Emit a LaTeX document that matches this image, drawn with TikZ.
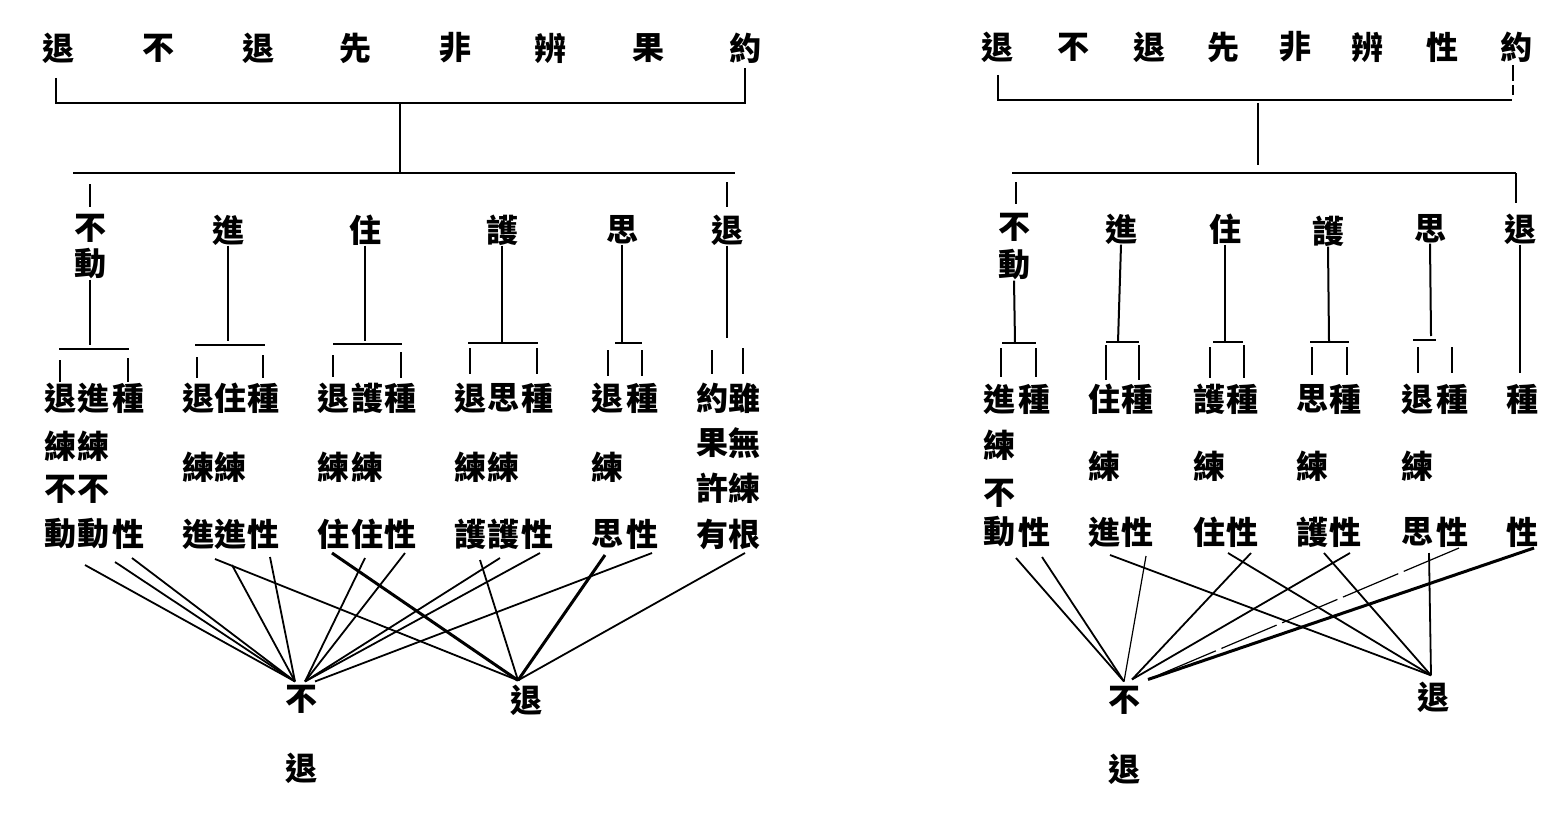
\documentclass[tikz,border=0pt]{standalone}
\usepackage{fontspec}
\newfontfamily\cjk{Noto Sans CJK TC}
\begin{document}
\begin{tikzpicture}[x=0.5pt,y=-0.5pt,
  zi/.style={font={\cjk\bfseries\fontsize{16}{16}\selectfont}, inner sep=0pt, text=black},
  tree/.style={line width=1pt},
  stem/.style={line width=1.4pt},
  thintree/.style={line width=0.7pt},
  link/.style={line width=0.9pt},
  heavylink/.style={line width=1.5pt},
  faintlink/.style={line width=0.6pt}]
\useasboundingbox[fill=white] (0,0) rectangle (1566,813);

% ================= LEFT DIAGRAM =================
% top row
\node[zi] (La1) at (58,48) {退};
\node[zi] (La2) at (158,48) {不};
\node[zi] (La3) at (258,48) {退};
\node[zi] (La4) at (355,48) {先};
\node[zi] (La5) at (455,48) {非};
\node[zi] (La6) at (550,48) {辨};
\node[zi] (La7) at (648,48) {果};
\node[zi] (La8) at (745,48) {約};
\coordinate (Lj1) at (400,103);
\coordinate (Lj2) at (400,173);
\draw[tree] (56,78) -- (56,103) -- (745,103) -- (745,68);
\draw[stem] (Lj1) -- (Lj2);
\draw[tree] (73,173) -- (735,173);
\draw[tree] (90,184) -- (90,207);
\draw[tree] (727,182) -- (727,207);

% second level
\node[zi] (Lb1) at (90,228) {不};
\node[zi] (Lb1b) at (90,264) {動};
\node[zi] (Lb2) at (228,230) {進};
\node[zi] (Lb3) at (365,230) {住};
\node[zi] (Lb4) at (502,230) {護};
\node[zi] (Lb5) at (622,230) {思};
\node[zi] (Lb6) at (727,230) {退};

% brackets
\draw[stem] (Lb1b.south) -- (90,345);
\draw[thintree] (59,349) -- (129,349);
\draw[tree] (60,360) -- (60,382); \draw[tree] (128,358) -- (128,382);

\draw[tree] (Lb2.south) -- (228,341);
\draw[thintree] (195,345) -- (265,345);
\draw[tree] (197,357) -- (197,378); \draw[tree] (263,355) -- (263,378);

\draw[tree] (Lb3.south) -- (365,341);
\draw[thintree] (333,344) -- (402,344);
\draw[tree] (333,355) -- (333,377); \draw[tree] (401,352) -- (401,378);

\draw[tree] (Lb4.south) -- (502,342);
\draw[thintree] (468,343) -- (538,343);
\draw[tree] (470,348) -- (470,374); \draw[tree] (537,348) -- (537,374);

\draw[tree] (Lb5.south) -- (622,342);
\draw[thintree] (615,343) -- (642,343);
\draw[tree] (608,350) -- (608,376); \draw[tree] (642,350) -- (642,376);

\draw[tree] (Lb6.south) -- (727,338);
\draw[tree] (712,350) -- (712,374); \draw[tree] (743,348) -- (743,374);

% group 1
\node[zi] (L11) at (60,398) {退}; \node[zi] (L12) at (93,398) {進}; \node[zi] (L13) at (128,398) {種};
\node[zi] (L14) at (60,446) {練}; \node[zi] (L15) at (93,446) {練};
\node[zi] (L16) at (60,489) {不}; \node[zi] (L17) at (93,489) {不};
\node[zi] (L18) at (60,534) {動}; \node[zi] (L19) at (93,534) {動}; \node[zi] (L10) at (128,534) {性};
% group 2
\node[zi] (L21) at (198,398) {退}; \node[zi] (L22) at (230,398) {住}; \node[zi] (L23) at (263,398) {種};
\node[zi] (L24) at (198,467) {練}; \node[zi] (L25) at (230,467) {練};
\node[zi] (L26) at (198,534) {進}; \node[zi] (L27) at (230,534) {進}; \node[zi] (L28) at (263,534) {性};
% group 3
\node[zi] (L31) at (333,398) {退}; \node[zi] (L32) at (367,398) {護}; \node[zi] (L33) at (400,398) {種};
\node[zi] (L34) at (333,467) {練}; \node[zi] (L35) at (367,467) {練};
\node[zi] (L36) at (333,534) {住}; \node[zi] (L37) at (367,534) {住}; \node[zi] (L38) at (400,534) {性};
% group 4
\node[zi] (L41) at (470,398) {退}; \node[zi] (L42) at (503,398) {思}; \node[zi] (L43) at (537,398) {種};
\node[zi] (L44) at (470,467) {練}; \node[zi] (L45) at (503,467) {練};
\node[zi] (L46) at (470,534) {護}; \node[zi] (L47) at (503,534) {護}; \node[zi] (L48) at (537,534) {性};
% group 5
\node[zi] (L51) at (607,398) {退}; \node[zi] (L52) at (642,398) {種};
\node[zi] (L53) at (607,467) {練};
\node[zi] (L54) at (607,534) {思}; \node[zi] (L55) at (642,534) {性};
% group 6
\node[zi] (L61) at (712,398) {約}; \node[zi] (L62) at (744,398) {雖};
\node[zi] (L63) at (712,443) {果}; \node[zi] (L64) at (744,443) {無};
\node[zi] (L65) at (712,488) {許}; \node[zi] (L66) at (744,488) {練};
\node[zi] (L67) at (712,534) {有}; \node[zi] (L68) at (744,534) {根};

% bottom
\node[zi] (Lbu) at (301,699) {不};
\node[zi] (Lbt) at (301,768) {退};
\node[zi] (Ltu) at (526,700) {退};
\coordinate (Lbl) at ([xshift=-3pt,yshift=1.5pt]Lbu.north);
\coordinate (Lbr) at ([xshift=2pt,yshift=1.5pt]Lbu.north);
\coordinate (Ltc) at ([xshift=-4pt,yshift=2pt]Ltu.north);

\draw[link] (85,565) -- (Lbl);
\draw[link] (115,562) -- (Lbl);
\draw[link] (132,558) -- (Lbl);
\draw[link] (215,559) -- (Ltc);
\draw[link] (232,565) -- (Lbl);
\draw[link] (270,557) -- (Lbl);
\draw[heavylink] (332,553) -- (Ltc);
\draw[link] (365,558) -- (Lbr);
\draw[link] (405,553) -- (Lbr);
\draw[link] (480,560) -- (Ltc);
\draw[link] (500,558) -- (Lbr);
\draw[link] (540,553) -- (Lbr);
\draw[heavylink] (605,555) -- (Ltc);
\draw[link] (652,553) -- ([xshift=5pt]Lbr);
\draw[link] (745,553) -- (Ltc);

% ================= RIGHT DIAGRAM =================
\node[zi] (Ra1) at (997,47) {退};
\node[zi] (Ra2) at (1073,47) {不};
\node[zi] (Ra3) at (1149,47) {退};
\node[zi] (Ra4) at (1223,47) {先};
\node[zi] (Ra5) at (1295,47) {非};
\node[zi] (Ra6) at (1367,47) {辨};
\node[zi] (Ra7) at (1442,47) {性};
\node[zi] (Ra8) at (1516,47) {約};
\coordinate (Rj1) at (1258,103);
\coordinate (Rj2) at (1258,165);
\draw[tree] (998,75) -- (998,100) -- (1512,100);
\draw[tree,dash pattern=on 8pt off 2pt] (1513,65) -- (1513,95);
\draw[stem] (Rj1) -- (Rj2);
\draw[thintree] (1012,173) -- (1516,173);
\draw[tree] (1516,173) -- (1516,203);
\draw[tree] (1016,182) -- (1016,204);

\node[zi] (Rb1) at (1014,227) {不};
\node[zi] (Rb1b) at (1014,265) {動};
\node[zi] (Rb2) at (1121,229) {進};
\node[zi] (Rb3) at (1225,229) {住};
\node[zi] (Rb4) at (1328,231) {護};
\node[zi] (Rb5) at (1430,229) {思};
\node[zi] (Rb6) at (1520,229) {退};

\draw[tree] (Rb1b.south) -- (1015,343);
\draw[thintree] (1002,343) -- (1036,343);
\draw[tree] (1001,348) -- (1001,377); \draw[tree] (1036,348) -- (1036,377);

\draw[tree] (Rb2.south) -- (1118,342);
\draw[stem] (1106,342) -- (1139,342);
\draw[tree] (1106,345) -- (1106,380); \draw[tree] (1139,345) -- (1139,380);

\draw[tree] (Rb3.south) -- (1225,342);
\draw[thintree] (1213,342) -- (1243,342);
\draw[tree] (1210,347) -- (1210,378); \draw[tree] (1244,345) -- (1244,378);

\draw[tree] (Rb4.south) -- (1329,342);
\draw[thintree] (1310,342) -- (1349,342);
\draw[tree] (1312,347) -- (1312,375); \draw[tree] (1347,347) -- (1347,375);

\draw[tree] (Rb5.south) -- (1431,336);
\draw[thintree] (1413,340) -- (1436,340);
\draw[tree] (1418,347) -- (1418,373); \draw[tree] (1452,347) -- (1452,373);

\draw[tree] (Rb6.south) -- (1520,373);

% rows
\node[zi] (R11) at (999,399) {進}; \node[zi] (R12) at (1034,399) {種};
\node[zi] (R13) at (999,445) {練};
\node[zi] (R14) at (999,493) {不};
\node[zi] (R15) at (999,532) {動}; \node[zi] (R16) at (1034,532) {性};

\node[zi] (R21) at (1104,399) {住}; \node[zi] (R22) at (1137,399) {種};
\node[zi] (R23) at (1104,466) {練};
\node[zi] (R24) at (1104,532) {進}; \node[zi] (R25) at (1137,532) {性};

\node[zi] (R31) at (1209,399) {護}; \node[zi] (R32) at (1242,399) {種};
\node[zi] (R33) at (1209,466) {練};
\node[zi] (R34) at (1209,532) {住}; \node[zi] (R35) at (1242,532) {性};

\node[zi] (R41) at (1312,399) {思}; \node[zi] (R42) at (1345,399) {種};
\node[zi] (R43) at (1312,466) {練};
\node[zi] (R44) at (1312,532) {護}; \node[zi] (R45) at (1345,532) {性};

\node[zi] (R51) at (1417,399) {退}; \node[zi] (R52) at (1452,399) {種};
\node[zi] (R53) at (1417,466) {練};
\node[zi] (R54) at (1417,532) {思}; \node[zi] (R55) at (1452,532) {性};

\node[zi] (R61) at (1522,399) {種};
\node[zi] (R62) at (1522,532) {性};

% bottom
\node[zi] (Rbu) at (1124,700) {不};
\node[zi] (Rbt) at (1124,769) {退};
\node[zi] (Rtu) at (1433,697) {退};
\coordinate (Rbl) at ([xshift=0pt,yshift=2pt]Rbu.north);
\coordinate (Rbm) at ([xshift=4pt,yshift=3pt]Rbu.north);
\coordinate (Rbr) at ([xshift=12pt,yshift=3pt]Rbu.north);
\coordinate (Rtc) at ([xshift=-1pt,yshift=3pt]Rtu.north);

\draw[link] (1016,558) -- (Rbl);
\draw[link] (1042,557) -- (Rbl);
\draw[link] (1110,555) -- (Rtc);
\draw[faintlink] (1146,556) -- (Rbl);
\draw[link] (1228,553) -- (Rtc);
\draw[link] (1251,553) -- (Rbm);
\draw[link] (1324,553) -- (Rtc);
\draw[link] (1350,553) -- (Rbm);
\draw[link] (1429,553) -- (Rtc);
\draw[faintlink,dash pattern=on 30pt off 3pt] (1459,548) -- (Rbr);
\draw[heavylink] (1534,548) -- (Rbr);
\end{tikzpicture}
\end{document}
